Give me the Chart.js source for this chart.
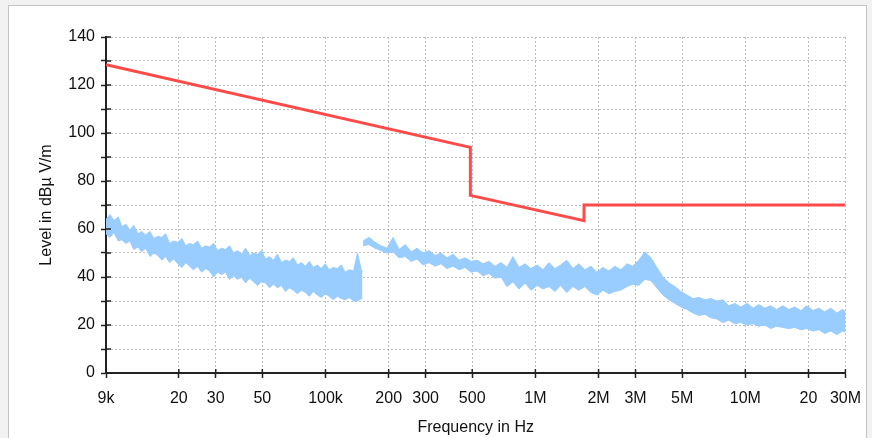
<!DOCTYPE html>
<html>
<head>
<meta charset="utf-8">
<title>Radiated emission scan</title>
<script src="https://cdn.jsdelivr.net/npm/chart.js@4/dist/chart.umd.min.js"></script>
<style>
  html, body { margin: 0; padding: 0; background: #f2f2f2; }
  #wrap { width: 872px; height: 438px; }
</style>
</head>
<body>
<div id="wrap"><canvas id="scan" width="872" height="438"></canvas></div>
<script>
// Frequency axis ticks
const freqTicks = [9e3, 20e3, 30e3, 50e3, 100e3, 200e3, 300e3, 500e3, 1e6, 2e6, 3e6, 5e6, 10e6, 20e6, 30e6];
const freqLabels = ["9k", "20", "30", "50", "100k", "200", "300", "500", "1M", "2M", "3M", "5M", "10M", "20", "30M"];

// Limit line (steps at 490 kHz and 1.705 MHz)
const limitFreq = [9e3, 490e3, 490e3, 1.705e6, 1.705e6, 30e6];
const limitLevel = [128.5, 94, 74, 63.5, 70, 70];

// Measured trace, band 1 (9 kHz - 150 kHz): envelope top / bottom, kHz
const lowFreq = [9.00, 9.40, 9.82, 10.3, 10.7, 11.2, 11.7, 12.2, 12.8, 13.3,
  13.9, 14.6, 15.2, 15.9, 16.6, 17.3, 18.1, 18.9, 19.8, 20.7,
  21.6, 22.5, 23.5, 24.6, 25.7, 26.8, 28.0, 29.3, 30.6, 32.0,
  33.4, 34.9, 36.5, 38.1, 39.8, 41.6, 43.5, 45.4, 47.4, 49.6,
  51.8, 54.1, 56.5, 59.0, 61.7, 64.4, 67.3, 70.3, 73.5, 76.8,
  80.2, 83.8, 87.5, 91.4, 95.5, 99.8, 104, 109, 114, 119,
  124, 130, 136, 142, 148, 150];
const lowTop = [64, 66, 63.5, 65, 61, 62, 59.5, 61.5, 58, 59,
  57.5, 59, 56, 57, 56.5, 58, 54, 55, 54.5, 56,
  53, 54, 53.5, 55, 52, 53, 52.5, 54, 51, 52,
  51.5, 53, 50, 51, 49.5, 52, 49, 50, 49.5, 51,
  47.5, 48.5, 47, 49.5, 46, 47, 46.5, 48, 45, 46,
  44.5, 46.5, 44, 45, 43.5, 45.5, 43, 44, 43.5, 45,
  42, 43, 42.5, 50, 43, 42];
const lowBottom = [58, 56.5, 58.5, 55, 55.5, 54, 55, 51.5, 52.5, 50.5,
  52, 48.5, 50, 49, 47, 48.5, 46, 47.5, 45.5, 44,
  46, 44.5, 43, 44.5, 42, 43.5, 42.5, 40, 42, 41,
  42, 39, 40.5, 39, 40, 37.5, 39.5, 38, 36.5, 38,
  37.5, 35.5, 37, 35.5, 36.5, 34, 35.5, 34.5, 33, 34.5,
  33.5, 32, 34, 32.5, 31.5, 33, 32, 30.5, 32, 31,
  30.5, 31.5, 30, 30, 31, 30.5];

// Measured trace, band 2 (150 kHz - 30 MHz): envelope top / bottom, MHz
const highFreq = [0.151, 0.161, 0.172, 0.184, 0.196, 0.210, 0.224, 0.240, 0.256, 0.273,
  0.292, 0.311, 0.333, 0.355, 0.379, 0.405, 0.433, 0.462, 0.494, 0.527,
  0.563, 0.601, 0.642, 0.686, 0.732, 0.782, 0.835, 0.892, 0.953, 1.02,
  1.087, 1.16, 1.24, 1.32, 1.41, 1.51, 1.61, 1.72, 1.84, 1.96,
  2.10, 2.24, 2.39, 2.55, 2.73, 2.91, 3.11, 3.32, 3.55, 3.79,
  4.05, 4.33, 4.62, 4.93, 5.27, 5.63, 6.01, 6.42, 6.85, 7.32,
  7.82, 8.35, 8.92, 9.52, 10.2, 10.9, 11.6, 12.4, 13.2, 14.1,
  15.1, 16.1, 17.2, 18.4, 19.6, 21.0, 22.4, 23.9, 25.5, 27.3,
  29.1, 30];
const highTop = [55, 56.5, 54.5, 53, 52, 56.5, 51.5, 53.5, 50.5, 52,
  50, 51, 49, 50, 48, 49.5, 47, 48, 46.5, 47,
  45.5, 46.5, 44.5, 46, 44, 48.5, 44, 45.5, 43.5, 45,
  43, 46, 43.5, 45, 47, 43.5, 45.5, 43, 44.5, 42,
  44, 42.5, 44.5, 43, 45.5, 44.5, 47, 50.5, 48, 44,
  40, 37.5, 36, 34, 32.5, 31, 31.5, 30.5, 31, 30,
  30.5, 28, 29, 27.5, 29, 27, 28.5, 27, 28, 26.5,
  28, 26.5, 27.5, 26, 28, 26, 27, 25.5, 27, 25,
  26.5, 25.5];
const highBottom = [53, 53.5, 52, 51, 50, 50.5, 48, 48.5, 46.5, 47.5,
  45, 46, 44.5, 45.5, 43.5, 44.5, 43, 44, 42, 42.5,
  40.5, 41.5, 39.5, 40, 36, 38, 35, 37.5, 34.5, 36.5,
  35, 36, 34, 36.5, 33.5, 36, 34.5, 36, 33.5, 32.5,
  34.5, 33, 34, 34.5, 36, 37, 36.5, 39, 38.5, 35.5,
  32.5, 30.5, 29, 27.5, 26.5, 25, 24, 24.5, 23, 22.5,
  21, 22, 20.5, 21, 20, 20.5, 19.5, 20, 18.5, 19.5,
  19, 18.5, 19, 18, 18.5, 17.5, 18, 16.5, 17.5, 16,
  17.5, 17];

const FONT = "'Liberation Sans', Arial, sans-serif";
const TRACE = "#99ccff";

const toPoints = (xs, ys, unit) => xs.map((x, i) => ({ x: x * unit, y: ys[i] }));

const band = (points, fill) => ({
    data: points,
    borderColor: TRACE,
    backgroundColor: TRACE,
    borderWidth: 1,
    pointRadius: 0,
    tension: 0,
    fill,
    order: 1
});

// white panel with thin grey frame
const framePlugin = {
    id: "frame",
    beforeDraw(chart) {
        const ctx = chart.ctx;
        ctx.save();
        ctx.fillStyle = "#f2f2f2";
        ctx.fillRect(0, 0, chart.width, chart.height);
        ctx.fillStyle = "#ffffff";
        ctx.fillRect(9, 6, 857, 440);
        ctx.strokeStyle = "#c4c4c4";
        ctx.lineWidth = 1;
        ctx.strokeRect(8.5, 5.5, 858, 441);
        ctx.restore();
    }
};

// tick marks also poke into the plot area
const innerTicks = {
    id: "innerTicks",
    afterDraw(chart) {
        const { ctx, chartArea, scales } = chart;
        ctx.save();
        ctx.strokeStyle = "#222";
        ctx.lineWidth = 1.5;
        ctx.beginPath();
        scales.x.ticks.forEach((t) => {
            const px = scales.x.getPixelForValue(t.value);
            ctx.moveTo(px, chartArea.bottom);
            ctx.lineTo(px, chartArea.bottom - 4);
        });
        scales.y.ticks.forEach((t) => {
            const py = scales.y.getPixelForValue(t.value);
            ctx.moveTo(chartArea.left, py);
            ctx.lineTo(chartArea.left + 5, py);
        });
        ctx.stroke();
        ctx.restore();
    }
};

new Chart(document.getElementById("scan"), {
    type: "line",
    data: {
        datasets: [
            {
                label: "Limit",
                data: toPoints(limitFreq, limitLevel, 1),
                borderColor: "#ff4a4a",
                borderWidth: 3,
                pointRadius: 0,
                tension: 0,
                fill: false,
                order: 0
            },
            band(toPoints(lowFreq, lowTop, 1e3), "+1"),
            band(toPoints(lowFreq, lowBottom, 1e3), false),
            band(toPoints(highFreq, highTop, 1e6), "+1"),
            band(toPoints(highFreq, highBottom, 1e6), false)
        ]
    },
    options: {
        responsive: false,
        animation: false,
        layout: { padding: { top: 37, right: 26, bottom: 0, left: 0 } },
        plugins: {
            legend: { display: false },
            tooltip: { enabled: false }
        },
        scales: {
            x: {
                type: "logarithmic",
                min: 9e3,
                max: 30e6,
                afterBuildTicks: (scale) => {
                    scale.ticks = freqTicks.map((v) => ({ value: v }));
                },
                afterFit: (scale) => { scale.height = 65; },
                ticks: {
                    callback: (value, index) => freqLabels[index],
                    autoSkip: false,
                    maxRotation: 0,
                    minRotation: 0,
                    color: "#111",
                    padding: 11,
                    font: { family: FONT, size: 16 }
                },
                grid: { color: "#bdbdbd", lineWidth: 1, tickLength: 5, tickColor: "#222", tickWidth: 1.5 },
                border: { display: true, color: "#222", width: 2, dash: [2, 2] },
                title: {
                    display: true,
                    text: "Frequency in Hz",
                    color: "#111",
                    font: { family: FONT, size: 16 },
                    padding: { top: 0, bottom: 1 }
                }
            },
            y: {
                type: "linear",
                min: 0,
                max: 140,
                afterFit: (scale) => { scale.width = 106; },
                ticks: {
                    stepSize: 10,
                    callback: (v) => (v % 20 === 0 ? String(v) : ""),
                    color: "#111",
                    padding: 6,
                    font: { family: FONT, size: 16 }
                },
                grid: { color: "#bdbdbd", lineWidth: 1, tickLength: 5, tickColor: "#222", tickWidth: 1.5 },
                border: { display: true, color: "#222", width: 2, dash: [2, 2] },
                title: {
                    display: true,
                    text: "Level in dBµ V/m",
                    color: "#111",
                    font: { family: FONT, size: 16 },
                    padding: { top: 37, bottom: 0 }
                }
            }
        }
    },
    plugins: [framePlugin, innerTicks]
});
</script>
</body>
</html>
